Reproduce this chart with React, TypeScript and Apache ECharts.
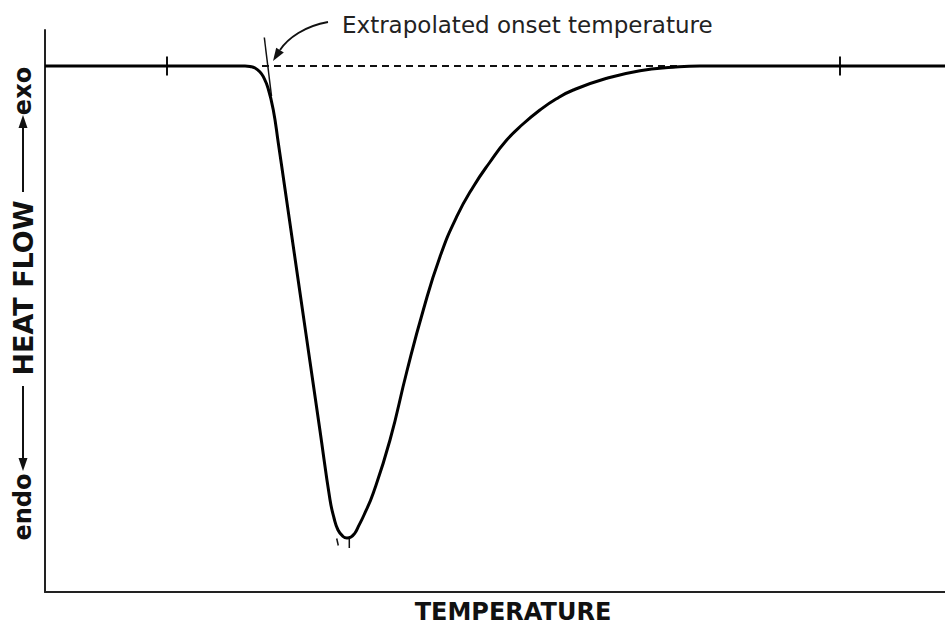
import React, { useEffect, useRef } from "react";
import * as echarts from "echarts";

// Temperature (arbitrary units) and heat flow (arbitrary units, baseline = 0, endothermic down)
const temperature = [0, 20, 35, 40, 41, 42, 43, 43.66, 44.6, 45.66, 46.66, 48, 49.66, 51.34, 53, 55, 57, 57.8, 58.6, 59.6, 60.4, 61.2, 62, 62.66, 63.8, 65.66, 69, 72.34, 75.66, 79, 82.34, 85.66, 89, 92.34, 95.6, 99, 102.2, 105.66, 112.34, 119, 125.6, 131, 140, 160, 180];
const heatFlow = [0, 0, 0, 0, -0.05, -0.2, -0.6, -1.07, -2.2, -4.4, -7.7, -12.3, -18.05, -23.85, -29.57, -36.47, -43.37, -45.2, -46.4, -47.05, -47.2, -47.1, -46.7, -46.07, -44.9, -42.7, -37.4, -30.6, -24.4, -19.07, -15.07, -12.07, -9.6, -7.4, -5.8, -4.4, -3.3, -2.4, -1.23, -0.47, -0.13, 0, 0, 0, 0];

const xRange = [0, 180];
const yRange = [-52.6, 3.6];

const baselineTicks = [24.4, 159];
const tickHalf = 0.95;
const extrapolatedBaseline = [[43.4, 0], [127, 0]];
const onsetTangent = [[43.86, 2.85], [45.3, -3.0]];
const onsetPoint = [44.6, 0];
const peakMarks = [
  [[58.34, -47.25], [58.66, -47.95]],
  [[60.86, -47.2], [60.86, -48.2]],
];

const annotationText = "Extrapolated onset temperature";
const xTitle = "TEMPERATURE";
const yLabelTop = "exo";
const yLabelMid = "HEAT FLOW";
const yLabelBottom = "endo";

const FONT = "'DejaVu Sans', Verdana, sans-serif";
const INK = "#111";

export default function App() {
  const ref = useRef<HTMLDivElement>(null);
  useEffect(() => {
    if (!ref.current) return;
    const chart = echarts.init(ref.current, null, { renderer: "svg" });
    const curve = temperature.map((t, i) => [t, heatFlow[i]]);
    const segSeries = (data: number[][], width: number, type: any = "solid", z = 2) => ({
      type: "line",
      data,
      showSymbol: false,
      symbol: "none",
      silent: true,
      z,
      lineStyle: { color: INK, width, type },
    });
    const series: any[] = [
      {
        type: "line",
        data: curve,
        smooth: 0.5,
        showSymbol: false,
        symbol: "none",
        silent: true,
        z: 5,
        lineStyle: { color: "#000", width: 3 },
      },
      segSeries(extrapolatedBaseline, 2, [7, 5], 3),
      segSeries(onsetTangent, 1.5, "solid", 4),
      ...baselineTicks.map((t) => segSeries([[t, tickHalf], [t, -tickHalf]], 2)),
      ...peakMarks.map((m) => segSeries(m, 1.5)),
    ];
    chart.setOption({
      animation: false,
      backgroundColor: "#fff",
      grid: { left: 45, right: 0, top: 30, bottom: 35, containLabel: false },
      xAxis: {
        type: "value",
        min: xRange[0],
        max: xRange[1],
        axisLine: { show: true, onZero: false, lineStyle: { color: "#222", width: 2 } },
        axisTick: { show: false },
        axisLabel: { show: false },
        splitLine: { show: false },
      },
      yAxis: {
        type: "value",
        min: yRange[0],
        max: yRange[1],
        axisLine: { show: true, onZero: false, lineStyle: { color: "#222", width: 2 } },
        axisTick: { show: false },
        axisLabel: { show: false },
        splitLine: { show: false },
      },
      series,
    });

    const a = chart.convertToPixel({ gridIndex: 0 }, onsetPoint) as number[];
    const ax = a[0];
    const ay = a[1];
    const yl = 23;
    chart.setOption({
      graphic: [
        {
          type: "bezierCurve",
          shape: {
            x1: ax + 60, y1: ay - 44,
            cpx1: ax + 37, cpy1: ay - 40,
            cpx2: ax + 20, cpy2: ay - 28,
            x2: ax + 12, y2: ay - 16,
          },
          style: { stroke: INK, lineWidth: 2, fill: null },
          silent: true,
        },
        {
          type: "polygon",
          shape: { points: [[ax + 5, ay - 5], [ax + 15.8, ay - 13.5], [ax + 8.2, ay - 18.3]] },
          style: { fill: INK },
          silent: true,
        },
        {
          type: "text",
          x: ax + 74,
          y: ay - 41,
          style: { text: annotationText, font: `23px ${FONT}`, fill: "#222", textAlign: "left", textVerticalAlign: "middle" },
          silent: true,
        },
        {
          type: "text",
          x: 513,
          y: 612,
          style: { text: xTitle, font: `bold 24px ${FONT}`, fill: INK, textAlign: "center", textVerticalAlign: "middle" },
          silent: true,
        },
        {
          type: "text",
          x: yl,
          y: 91,
          rotation: Math.PI / 2,
          style: { text: yLabelTop, font: `bold 24px ${FONT}`, fill: INK, textAlign: "center", textVerticalAlign: "middle" },
          silent: true,
        },
        {
          type: "line",
          shape: { x1: yl, y1: 192, x2: yl, y2: 124 },
          style: { stroke: INK, lineWidth: 2 },
          silent: true,
        },
        {
          type: "polygon",
          shape: { points: [[yl, 115], [yl - 4.5, 128], [yl + 4.5, 128]] },
          style: { fill: INK },
          silent: true,
        },
        {
          type: "text",
          x: yl,
          y: 288,
          rotation: Math.PI / 2,
          style: { text: yLabelMid, font: `bold 27px ${FONT}`, fill: INK, textAlign: "center", textVerticalAlign: "middle" },
          silent: true,
        },
        {
          type: "line",
          shape: { x1: yl, y1: 386, x2: yl, y2: 460 },
          style: { stroke: INK, lineWidth: 2 },
          silent: true,
        },
        {
          type: "polygon",
          shape: { points: [[yl, 471], [yl - 4.5, 458], [yl + 4.5, 458]] },
          style: { fill: INK },
          silent: true,
        },
        {
          type: "text",
          x: yl,
          y: 507,
          rotation: Math.PI / 2,
          style: { text: yLabelBottom, font: `bold 24px ${FONT}`, fill: INK, textAlign: "center", textVerticalAlign: "middle" },
          silent: true,
        },
      ],
    });
    return () => chart.dispose();
  }, []);
  return (
    <div
      ref={ref}
      style={{ position: "absolute", left: 0, top: 0, width: 945, height: 627, background: "#fff" }}
    />
  );
}
